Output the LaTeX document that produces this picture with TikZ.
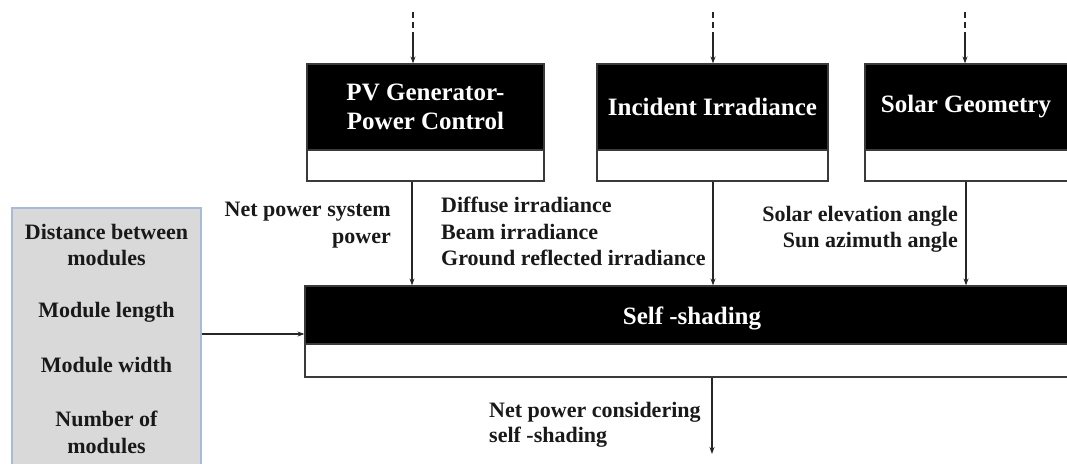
\documentclass[tikz,border=0pt]{standalone}
\usepackage{fontspec}
\setmainfont{Liberation Serif}
\usetikzlibrary{arrows.meta,calc}
\definecolor{panelgray}{HTML}{D9D9D9}
\definecolor{panelblue}{HTML}{A7BBD8}
\definecolor{edgegray}{HTML}{3A3A3A}
\newcommand{\titlefont}{\bfseries\fontsize{25}{29}\selectfont}
\begin{document}
\begin{tikzpicture}[x=1pt,y=-1pt,
  blk/.style={fill=black,draw=edgegray,line width=1.2pt,text=white,
    font=\titlefont,align=center,inner sep=0pt},
  wht/.style={fill=white,draw=edgegray,line width=1.2pt,inner sep=0pt},
  ttl/.style={font=\titlefont,text=white,inner sep=0pt},
  lbl/.style={font=\bfseries\fontsize{22}{26.5}\selectfont,inner sep=0pt,text=black!90},
  arr/.style={draw=black!85,line width=1.1pt,-{Stealth[length=7pt,width=5pt]}},
  dsh/.style={draw=black!85,line width=1.1pt,dash pattern=on 6pt off 4pt}]
\useasboundingbox (0,0) rectangle (1067,463);
\fill[white] (0,0) rectangle (1067,463);

% upper blocks: black title band over a white band
\node[blk,minimum width=237pt,minimum height=86pt] (pv) at (425.5,107)
  {PV Generator-\\Power Control};
\node[wht,minimum width=237pt,minimum height=31pt] (pvw) at (425.5,165.5) {};
\node[blk,minimum width=231pt,minimum height=86pt] (inc) at (712.5,107)
  {Incident Irradiance};
\node[wht,minimum width=231pt,minimum height=31pt] (incw) at (712.5,165.5) {};
\node[blk,minimum width=207pt,minimum height=86pt] (sol) at (968.5,107) {};
\node[ttl] (solt) at (966,107) {Solar Geometry};
\node[wht,minimum width=207pt,minimum height=31pt] (solw) at (968.5,165.5) {};

% central block
\node[blk,minimum width=775pt,minimum height=58pt] (self) at (692.5,315) {};
\node[ttl] (selft) at (692,318) {Self -shading};
\node[wht,minimum width=775pt,minimum height=33pt] (selfw) at (692.5,360.5) {};

% parameter panel
\node[fill=panelgray,draw=panelblue,line width=1.2pt,minimum width=189pt,
  minimum height=262pt,inner sep=0pt] (par) at (106.5,339) {};
\node[lbl,align=center] (p1) at (106.5,245) {Distance between\\modules};
\node[lbl] (p2) at (106.5,312) {Module length};
\node[lbl] (p3) at (106.5,365) {Module width};
\node[lbl,align=center] (p4) at (106.5,432.5) {Number of\\modules};

% connector labels
\node[lbl,align=right,anchor=east] (l1) at (391,225) {Net power system\\power};
\node[lbl,align=left,anchor=west] (l2) at (441,231.5)
  {Diffuse irradiance\\Beam irradiance\\Ground reflected irradiance};
\node[lbl,align=right,anchor=east] (l3) at (958,229.5)
  {Solar elevation angle\\Sun azimuth angle};
\node[lbl,align=left,anchor=west,font=\bfseries\fontsize{22}{25}\selectfont] (l4) at (489,424.5)
  {Net power considering\\self -shading};

% incoming dashed feeds
\coordinate (t1) at (413,12);  \coordinate (m1) at (413,37);
\coordinate (t2) at (713,12);  \coordinate (m2) at (713,37);
\coordinate (t3) at (965,12);  \coordinate (m3) at (965,37);
\draw[dsh] (t1) -- (m1);  \draw[arr] (m1) -- (pv.north -| m1);
\draw[dsh] (t2) -- (m2);  \draw[arr] (m2) -- (inc.north -| m2);
\draw[dsh] (t3) -- (m3);  \draw[arr] (m3) -- (sol.north -| m3);

% block outputs into self-shading
\coordinate (x1) at (412,0);
\coordinate (x2) at (713,0);
\coordinate (x3) at (966,0);
\draw[arr] (pvw.south -| x1) -- (self.north -| x1);
\draw[arr] (incw.south -| x2) -- (self.north -| x2);
\draw[arr] (solw.south -| x3) -- (self.north -| x3);

% parameters into self-shading
\coordinate (ly) at (0,334);
\draw[arr] (par.east |- ly) -- (self.west |- ly);

% final output
\coordinate (out) at (712,454);
\draw[arr] (selfw.south -| out) -- (out);
\end{tikzpicture}
\end{document}
